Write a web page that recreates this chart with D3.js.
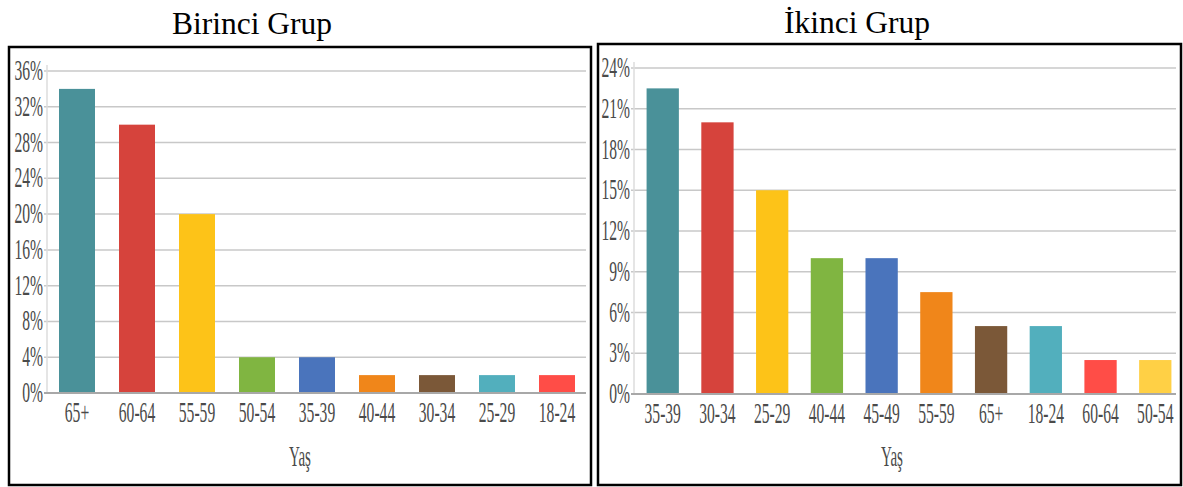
<!DOCTYPE html>
<html>
<head>
<meta charset="utf-8">
<script src="https://cdn.jsdelivr.net/npm/d3@7"></script>
<style>
  body { margin: 0; background: #fff; }
  svg text { font-family: "Liberation Serif", "Times New Roman", serif; }
</style>
</head>
<body>
<svg id="chart" width="1183" height="487"></svg>
<script>
// Birinci Grup
const ages1 = ['65+', '60-64', '55-59', '50-54', '35-39', '40-44', '30-34', '25-29', '18-24'];
const values1 = [34, 30, 20, 4, 4, 2, 2, 2, 2];
const ticks1 = [0, 4, 8, 12, 16, 20, 24, 28, 32, 36];
const colors1 = ['#4a9199', '#d6433c', '#fdc318', '#80b541', '#4a74bc', '#f0861a', '#7b5838', '#52afbd', '#ff4d47'];

// İkinci Grup
const ages2 = ['35-39', '30-34', '25-29', '40-44', '45-49', '55-59', '65+', '18-24', '60-64', '50-54'];
const values2 = [22.5, 20, 15, 10, 10, 7.5, 5, 5, 2.5, 2.5];
const ticks2 = [0, 3, 6, 9, 12, 15, 18, 21, 24];
const colors2 = ['#4a9199', '#d6433c', '#fdc318', '#80b541', '#4a74bc', '#f0861a', '#7b5838', '#52afbd', '#ff4d47', '#ffd045'];

const svg = d3.select('#chart');
const SX = 0.52; // labels in the original are squeezed sideways

function drawPanel(p) {
    const g = svg.append('g');

    // frame + title
    g.append('rect')
        .attr('x', p.frame[0]).attr('y', p.frame[1])
        .attr('width', p.frame[2]).attr('height', p.frame[3])
        .attr('fill', 'none').attr('stroke', '#000').attr('stroke-width', 2.5);
    g.append('text')
        .attr('x', p.titleX).attr('y', p.titleY)
        .attr('text-anchor', 'middle')
        .attr('font-size', 31.5)
        .attr('fill', '#000')
        .text(p.title);

    const x = d3.scaleBand()
        .domain(p.cats)
        .range([p.left, p.right])
        .paddingInner(p.padIn)
        .paddingOuter(p.padOut);
    const y = d3.scaleLinear().domain([0, p.max]).range([p.bottom, p.top]);

    // gridlines
    g.selectAll('.grid').data(p.ticks.slice(1)).join('line')
        .attr('x1', p.left - 3).attr('x2', p.gridEnd)
        .attr('y1', d => y(d)).attr('y2', d => y(d))
        .attr('stroke', '#c8c8c8').attr('stroke-width', 1.5);

    // y axis line
    g.append('line')
        .attr('x1', p.left).attr('x2', p.left)
        .attr('y1', p.top - 6).attr('y2', p.bottom)
        .attr('stroke', '#dcdcdc').attr('stroke-width', 1.5);

    // bars
    g.selectAll('.bar').data(p.vals).join('rect')
        .attr('x', (d, i) => x(p.cats[i]))
        .attr('y', d => y(d))
        .attr('width', x.bandwidth())
        .attr('height', d => y(0) - y(d))
        .attr('fill', (d, i) => p.colors[i]);

    // baseline
    g.append('line')
        .attr('x1', p.left - 3).attr('x2', p.gridEnd)
        .attr('y1', y(0)).attr('y2', y(0))
        .attr('stroke', '#a8a8a8').attr('stroke-width', 2);

    // y tick labels
    g.selectAll('.ytick').data(p.ticks).join('text')
        .attr('transform', d => `translate(${p.left - 4},${y(d) + 9}) scale(${SX},1)`)
        .attr('text-anchor', 'end')
        .attr('font-size', 30)
        .attr('fill', '#4a4a4a')
        .text(d => d + '%');

    // x tick labels
    g.selectAll('.xtick').data(p.cats).join('text')
        .attr('transform', d => `translate(${x(d) + x.bandwidth() / 2},${p.bottom + 29}) scale(${SX},1)`)
        .attr('text-anchor', 'middle')
        .attr('font-size', 30)
        .attr('fill', '#4a4a4a')
        .text(d => d);

    // axis title
    g.append('text')
        .attr('transform', `translate(${p.xTitleX},${p.xTitleY}) scale(${SX},1)`)
        .attr('text-anchor', 'middle')
        .attr('font-size', 29)
        .attr('fill', '#4a4a4a')
        .text('Yaş');
}

drawPanel({
    title: 'Birinci Grup', titleX: 252, titleY: 34,
    frame: [9, 47, 582, 438],
    cats: ages1, vals: values1, colors: colors1, ticks: ticks1, max: 36,
    left: 47, right: 587, padIn: 0.4, padOut: 0.2,
    top: 71, bottom: 393, gridEnd: 586,
    xTitleX: 300, xTitleY: 466
});

drawPanel({
    title: 'İkinci Grup', titleX: 857, titleY: 33,
    frame: [598, 44, 583, 441],
    cats: ages2, vals: values2, colors: colors2, ticks: ticks2, max: 24,
    left: 634, right: 1184, padIn: 0.41, padOut: 0.23,
    top: 68, bottom: 394, gridEnd: 1176,
    xTitleX: 892, xTitleY: 466
});
</script>
</body>
</html>
